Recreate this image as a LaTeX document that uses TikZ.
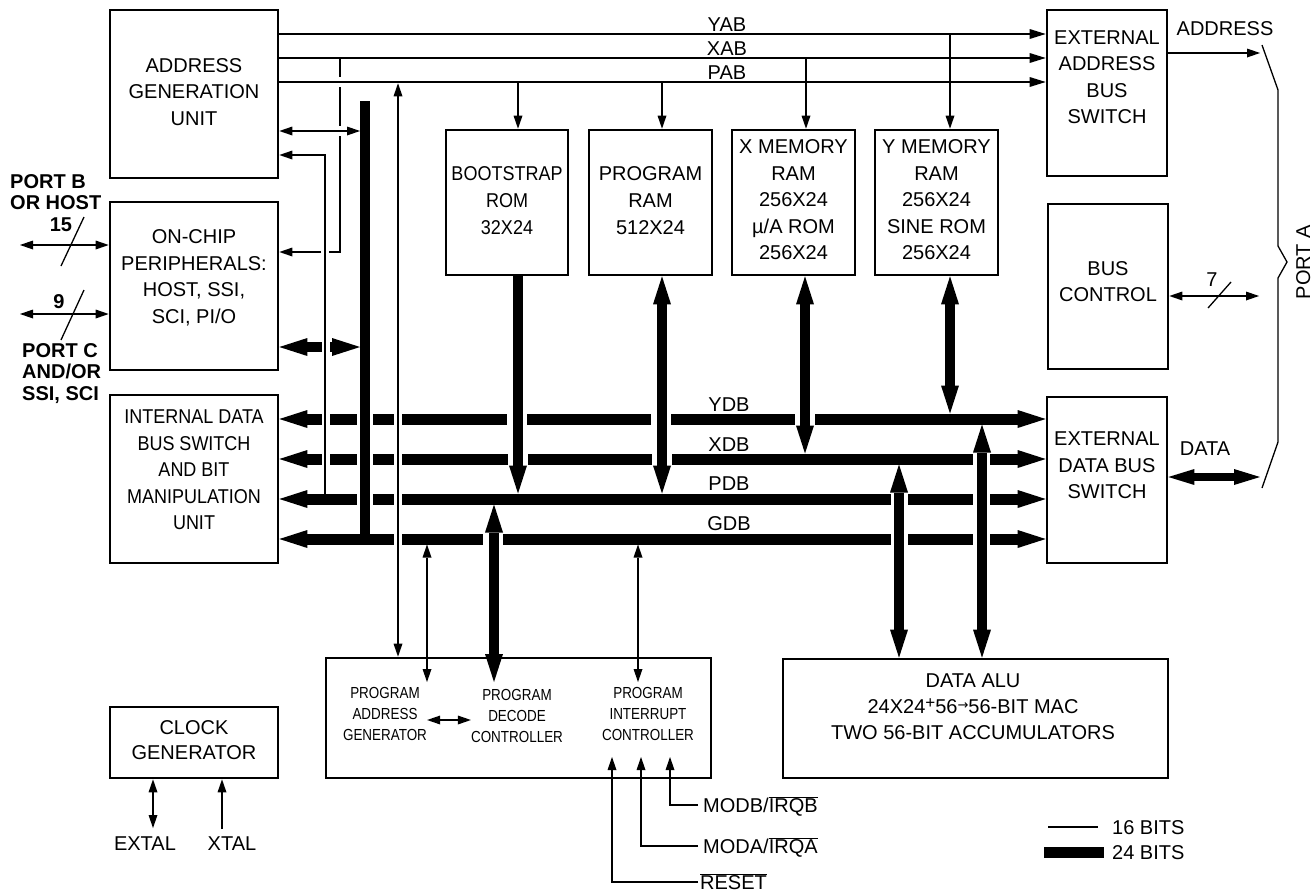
\documentclass[tikz,border=0pt]{standalone}
\usepackage{fontspec}
\setmainfont{Liberation Sans}
\newfontfamily\cnd[FakeStretch=0.9]{Liberation Sans}
\newfontfamily\cndd[FakeStretch=0.84]{Liberation Sans}
\newfontfamily\djv{DejaVu Sans}
\usetikzlibrary{arrows.meta}
\newcommand\ovl[1]{$\overline{\mbox{#1}}$}
\tikzset{
  tA/.tip={Triangle[length=13pt,width=9pt,line width=0pt]},
  tB/.tip={Triangle[length=16pt,width=10pt,line width=0pt]},
  tD/.tip={Triangle[length=28pt,width=18pt,line width=0pt]},
  tE/.tip={Triangle[length=26pt,width=16pt,line width=0pt]},
  box/.style={draw, line width=2.7pt, inner sep=0pt},
  txt/.style={inner sep=0pt, align=center, font=\fontsize{20}{26.5}\selectfont},
  lab/.style={txt, text height=14.3pt, text depth=0pt},
  cond/.style={inner sep=0pt, align=center, font=\cndd\fontsize{16}{21}\selectfont},
  bld/.style={inner sep=0pt, align=left, font=\bfseries\fontsize{20}{20.5}\selectfont},
  sig/.style={line width=1.6pt},
  abus/.style={line width=2.6pt},
  dbus/.style={line width=11pt},
  vbus/.style={line width=10pt},
  hair/.style={line width=1.3pt}
}
\begin{document}
\begin{tikzpicture}[x=1pt,y=-1pt]
\useasboundingbox (0,0) rectangle (1314,892);

% ---------- boxes ----------
\node[box, minimum width=168pt, minimum height=168pt] (agu) at (194,94) {};
\node[box, minimum width=168pt, minimum height=168pt] (per) at (194,286) {};
\node[box, minimum width=168pt, minimum height=168pt] (idbs) at (194,479) {};
\node[box, minimum width=168pt, minimum height=71pt] (clk) at (194,742.5) {};
\node[box, minimum width=122pt, minimum height=145pt] (boot) at (507,202.5) {};
\node[box, minimum width=123pt, minimum height=145pt] (pram) at (650.5,202.5) {};
\node[box, minimum width=123pt, minimum height=145pt] (xmem) at (793.5,202.5) {};
\node[box, minimum width=123pt, minimum height=145pt] (ymem) at (936.5,202.5) {};
\node[box, minimum width=120pt, minimum height=166pt] (eabs) at (1107,93) {};
\node[box, minimum width=120pt, minimum height=165pt] (bctl) at (1108,286.5) {};
\node[box, minimum width=120pt, minimum height=166pt] (edbs) at (1107,480) {};
\node[box, minimum width=385pt, minimum height=120pt] (pc) at (518.5,718) {};
\node[box, minimum width=385pt, minimum height=119pt] (alu) at (975.5,718.5) {};

% ---------- box texts ----------
\node[txt] (aguT) at (194,92) {ADDRESS\\GENERATION\\UNIT};
\node[txt] (perT) at (194,278) {ON-CHIP\\PERIPHERALS:\\HOST, SSI,\\SCI, PI/O};
\node[txt, font=\cnd\fontsize{20}{26.5}\selectfont] (idbsT) at (194,470) {INTERNAL DATA\\BUS SWITCH\\AND BIT\\MANIPULATION\\UNIT};
\node[txt, font=\fontsize{20}{25}\selectfont] (clkT) at (194,740.5) {CLOCK\\GENERATOR};
\node[txt, font=\cnd\fontsize{20}{27}\selectfont] (bootT) at (507,201) {BOOTSTRAP\\ROM\\32X24};
\node[txt, font=\fontsize{20}{27}\selectfont] (pramT) at (650.5,201) {PROGRAM\\RAM\\512X24};
\node[txt] (xmemT) at (793.5,200) {X MEMORY\\RAM\\256X24\\µ/A ROM\\256X24};
\node[txt] (ymemT) at (936.5,200) {Y MEMORY\\RAM\\256X24\\SINE ROM\\256X24};
\node[txt] (eabsT) at (1107,77) {EXTERNAL\\ADDRESS\\BUS\\SWITCH};
\node[txt] (bctlT) at (1108,281.5) {BUS\\CONTROL};
\node[txt] (edbsT) at (1107,465.5) {EXTERNAL\\DATA BUS\\SWITCH};
\node[txt, font=\fontsize{20}{26}\selectfont] (aluT) at (973,707) {DATA ALU\\24X24\raisebox{5pt}{\fontsize{17}{17}\selectfont +}56\raisebox{4pt}{\djv\fontsize{13}{13}\selectfont →}56-BIT MAC\\TWO 56-BIT ACCUMULATORS};
\node[cond] (pag) at (385,714) {PROGRAM\\ADDRESS\\GENERATOR};
\node[cond] (pdc) at (517,716) {PROGRAM\\DECODE\\CONTROLLER};
\node[cond] (pic) at (648,714) {PROGRAM\\INTERRUPT\\CONTROLLER};
\draw[sig,tA-tA] (pag.east |- 0,720) -- (pdc.west |- 0,720);

% ---------- address buses ----------
\node[lab] (yabL) at (727,24) {YAB};
\node[lab] (xabL) at (727,48) {XAB};
\node[lab] (pabL) at (727,72) {PAB};
\foreach \y in {34,58,82} \draw[abus,-tB] (agu.east |- 0,\y) -- (eabs.west |- 0,\y);

\draw[sig,-tA] (518,82) -- (boot.north -| 518,0);
\draw[sig,-tA] (662,82) -- (pram.north -| 662,0);
\draw[sig,-tA] (806,58) -- (xmem.north -| 806,0);
\draw[sig,-tA] (950,34) -- (ymem.north -| 950,0);

% XAB -> peripherals (with crossing gaps)
\draw[sig] (340,58) -- (340,77);
\draw[sig] (340,87) -- (340,126);
\draw[sig] (340,136) -- (340,252) -- (329,252);
\draw[sig,-tA] (321,252) -- (per.east |- 0,252);

% AGU links
\draw[sig,tA-tA] (agu.east |- 0,131) -- (360,131);
\draw[sig,-tA] (325,493.5) -- (325,155) -- (agu.east |- 0,155);
\draw[vbus] (365,101) -- (365,539);
\draw[vbus,tD-] (per.east |- 0,347) -- (322,347);
\draw[vbus,-tD] (330,347) -- (360,347);

% ---------- data buses ----------
\node[lab] (ydbL) at (729,404) {YDB};
\node[lab] (xdbL) at (729,444) {XDB};
\node[lab] (pdbL) at (729,483) {PDB};
\node[lab] (gdbL) at (729,523) {GDB};

% YDB
\draw[dbus,tD-] (idbs.east |- 0,419) -- (322,419);
\foreach \a/\b in {330/357,373/394,402/507,527/651,671/795} \draw[dbus] (\a,419) -- (\b,419);
\draw[dbus,-tD] (815,419) -- (edbs.west |- 0,419);
% XDB
\draw[dbus,tD-] (idbs.east |- 0,459) -- (322,459);
\foreach \a/\b in {330/357,373/394,402/508,528/652,672/973} \draw[dbus] (\a,459) -- (\b,459);
\draw[dbus,-tD] (990,459) -- (edbs.west |- 0,459);
% PDB
\draw[dbus,tD-] (idbs.east |- 0,499) -- (357,499);
\foreach \a/\b in {373/394,402/891,908/973} \draw[dbus] (\a,499) -- (\b,499);
\draw[dbus,-tD] (990,499) -- (edbs.west |- 0,499);
% GDB
\draw[dbus,tD-] (idbs.east |- 0,539) -- (394,539);
\foreach \a/\b in {402/483,503/891,908/973} \draw[dbus] (\a,539) -- (\b,539);
\draw[dbus,-tD] (990,539) -- (edbs.west |- 0,539);

% verticals
\draw[sig,tA-tA] (pc.north -| 398,0) -- (398,83.3);
\draw[vbus,-tD] (boot.south -| 518,0) -- (518,493.5);
\draw[vbus,tD-tD] (pram.south -| 662,0) -- (662,493.5);
\draw[vbus,tD-tD] (xmem.south -| 805,0) -- (805,453.5);
\draw[vbus,tD-tD] (ymem.south -| 950,0) -- (950,413.5);
\draw[vbus,tD-tD] (494,504.5) -- (494,682);
\draw[vbus,tD-tD] (899,464.5) -- (alu.north -| 899,0);
\draw[vbus,tD-tD] (982,424.5) -- (alu.north -| 982,0);
\draw[sig,tA-tA] (427,544.5) -- (427,682);
\draw[sig,tA-tA] (638,544.5) -- (638,682);

% ---------- control inputs ----------
\node[lab, anchor=west] (modb) at (703,805) {MODB/\ovl{IRQB}};
\node[lab, anchor=west] (moda) at (703,846) {MODA/\ovl{IRQA}};
\node[lab, anchor=west] (rst) at (700,882) {\ovl{RESET}};
\draw[sig,-tA] ([xshift=-5pt]modb.west) -| (670,757);
\draw[sig,-tA] ([xshift=-5pt]moda.west) -| (641,757);
\draw[sig,-tA] ([xshift=-2pt]rst.west) -| (612,757);

% ---------- ports left ----------
\node[bld, anchor=west] (pbL) at (10,192) {PORT B\\OR HOST};
\node[bld, font=\bfseries\fontsize{20}{21.5}\selectfont, anchor=west] (pcL) at (22,373.5) {PORT C\\AND/OR\\SSI, SCI};
\node[bld, text height=14.3pt, text depth=0pt] (n15) at (61,224) {15};
\node[bld, text height=14.3pt, text depth=0pt] (n9) at (59,301) {9};
\draw[sig,tA-tA] (20,245) -- (per.west |- 0,245);
\draw[hair] (61,266) -- (84,217);
\draw[sig,tA-tA] (20,314) -- (per.west |- 0,314);
\draw[hair] (61,340) -- (84,290);

% ---------- clock ----------
\draw[sig,tA-tA] (clk.south -| 153,0) -- (153,828);
\draw[sig,-tA] (222,829) -- (clk.south -| 222,0);
\node[lab] (extal) at (145,843) {EXTAL};
\node[lab] (xtal) at (232,843) {XTAL};

% ---------- port A ----------
\node[lab] (addrL) at (1225,28) {ADDRESS};
\draw[sig,-tA] (eabs.east |- 0,53) -- (1260,53);
\draw[sig,tA-tA] (bctl.east |- 0,296) -- (1259,296);
\draw[hair] (1208,308) -- (1231,282);
\node[lab] (n7) at (1212,279) {7};
\node[lab] (dataL) at (1205,448) {DATA};
\draw[line width=8pt,tE-tE] (edbs.east |- 0,477) -- (1260,477);
\draw[hair] (1262,45) -- (1278,90) -- (1278,246) -- (1287,262) -- (1278,278) -- (1278,442) -- (1262,488);
\node[lab, rotate=90] (portA) at (1303,262) {PORT A};

% ---------- legend ----------
\draw[sig] (1048,827) -- (1098,827);
\draw[dbus] (1044,852) -- (1104,852);
\node[lab, anchor=west] (l16) at (1112,827) {16 BITS};
\node[lab, anchor=west] (l24) at (1112,852) {24 BITS};
\end{tikzpicture}
\end{document}
